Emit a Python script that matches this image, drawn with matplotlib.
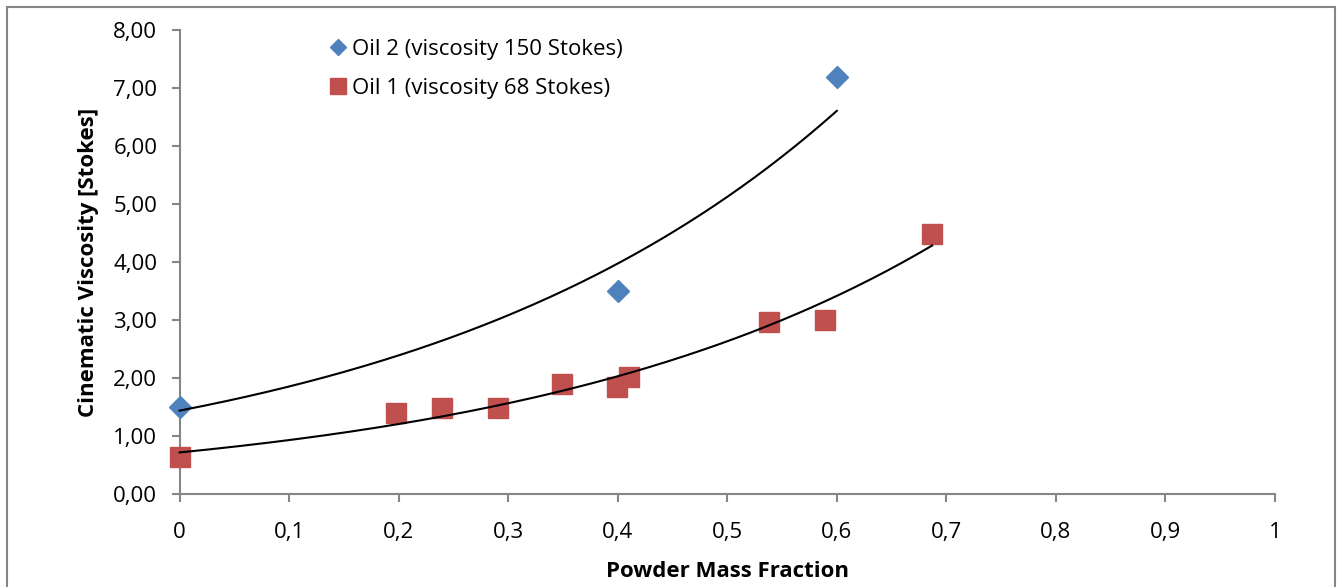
import numpy as np
import matplotlib
matplotlib.use("Agg")
import matplotlib.pyplot as plt
from matplotlib.patches import Rectangle
from matplotlib.ticker import FuncFormatter

# ------------------------------------
# Data
# ------------------------------------
oil2_x = [0.0, 0.40, 0.60]
oil2_y = [1.50, 3.50, 7.19]

oil1_x = [0.0, 0.198, 0.240, 0.291, 0.349, 0.399, 0.410, 0.538, 0.589, 0.687]
oil1_y = [0.63, 1.40, 1.48, 1.49, 1.90, 1.84, 2.02, 2.96, 3.00, 4.48]

oil2_label = "Oil 2 (viscosity 150 Stokes)"
oil1_label = "Oil 1 (viscosity 68 Stokes)"

BLUE = "#4F81BD"
RED = "#C0504D"
GREY = "#868686"

plt.rcParams["font.family"] = ["Open Sans", "DejaVu Sans"]

# ------------------------------------
# Figure
# ------------------------------------
fig = plt.figure(figsize=(13.41, 5.87), dpi=100)
ax = fig.add_axes([0.1339, 0.1584, 0.8169, 0.7905])


def exp_trend(x, y):
    # Excel-style exponential trendline: y = a * exp(b x)
    x = np.asarray(x)
    b, ln_a = np.polyfit(x, np.log(y), 1)
    xs = np.linspace(x.min(), x.max(), 200)
    return xs, np.exp(ln_a) * np.exp(b * xs)


ax.plot(oil2_x, oil2_y, linestyle="none", marker="D", markersize=11,
        color=BLUE, label=oil2_label, zorder=3, clip_on=False)
ax.plot(oil1_x, oil1_y, linestyle="none", marker="s", markersize=15,
        color=RED, label=oil1_label, zorder=3, clip_on=False)

tx, ty = exp_trend(oil2_x, oil2_y)
ax.plot(tx, ty, color="black", linewidth=1.5, zorder=4, clip_on=False)
tx, ty = exp_trend(oil1_x, oil1_y)
ax.plot(tx, ty, color="black", linewidth=1.5, zorder=4, clip_on=False)

# ------------------------------------
# Axes
# ------------------------------------
ax.set_xlim(0, 1)
ax.set_ylim(0, 8)
ax.set_xticks(np.arange(0, 1.01, 0.1))
ax.set_yticks(np.arange(0, 8.01, 1))
ax.xaxis.set_major_formatter(FuncFormatter(
    lambda v, p: "0" if abs(v) < 1e-9 else ("1" if abs(v - 1) < 1e-9 else f"{v:.1f}".replace(".", ","))))
ax.yaxis.set_major_formatter(FuncFormatter(lambda v, p: f"{v:.2f}".replace(".", ",")))

for s in ["top", "right"]:
    ax.spines[s].set_visible(False)
for s in ["left", "bottom"]:
    ax.spines[s].set_color(GREY)
    ax.spines[s].set_linewidth(1.5)
    ax.spines[s].set_zorder(1)

ax.tick_params(axis="both", colors=GREY, labelcolor="black", labelsize=16,
               length=6, width=1.5, direction="out")
ax.tick_params(axis="x", pad=14)
ax.tick_params(axis="y", pad=10)

ax.set_xlabel("Powder Mass Fraction", fontsize=16, fontweight="bold", labelpad=13)
ax.set_ylabel("Cinematic Viscosity [Stokes]", fontsize=16, fontweight="bold", labelpad=10)

ax.legend(loc="upper left", bbox_to_anchor=(0.126, 1.0), frameon=False,
          fontsize=16, handletextpad=0.15, handlelength=1.0, labelspacing=0.8,
          markerscale=0.75, borderaxespad=0.0)

# outer chart border
fig.patches.append(Rectangle((7 / 1341, -0.05), (1335 - 7) / 1341, 1.05 - 7 / 587,
                             transform=fig.transFigure, fill=False,
                             edgecolor=GREY, linewidth=1.5))

fig.savefig("out.png", dpi=100)
